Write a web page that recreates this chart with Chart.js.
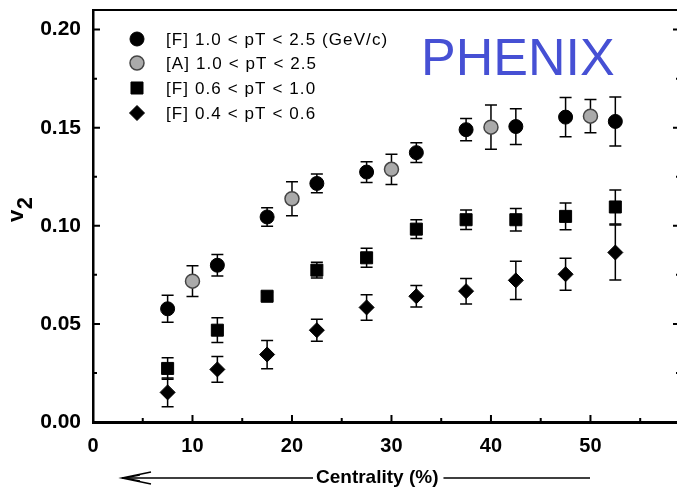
<!DOCTYPE html>
<html><head><meta charset="utf-8">
<script src="https://cdn.jsdelivr.net/npm/chart.js@4.4.1/dist/chart.umd.min.js"></script>
<style>
html,body{margin:0;padding:0;overflow:hidden;background:#fff;width:677px;height:491px}
#wrap{width:690px;height:491px;position:relative}
</style>
</head><body><div id="wrap"><canvas id="c" width="690" height="491"></canvas></div>
<script>
// ---- data ----
const seriesLabels = ['[F] 1.0 < pT < 2.5 (GeV/c)', '[A] 1.0 < pT < 2.5', '[F] 0.6 < pT < 1.0', '[F] 0.4 < pT < 0.6'];
const centralityF = [7.5, 12.5, 17.5, 22.5, 27.5, 32.5, 37.5, 42.5, 47.5, 52.5];
const centralityA = [10, 20, 30, 40, 50];
const v2HighF = [0.0577, 0.0799, 0.1045, 0.1216, 0.1274, 0.1373, 0.1490, 0.1506, 0.1554, 0.1532];
const errHighF = [0.0069, 0.0055, 0.0047, 0.0048, 0.0053, 0.0050, 0.0057, 0.0091, 0.0100, 0.0125];
const v2HighA = [0.0718, 0.1138, 0.1288, 0.1503, 0.1559];
const errHighA = [0.0078, 0.0087, 0.0077, 0.0113, 0.0085];
const v2MidF = [0.0273, 0.0468, 0.0641, 0.0774, 0.0837, 0.0983, 0.1031, 0.1031, 0.1048, 0.1096];
const errMidF = [0.0055, 0.0063, 0.0020, 0.0040, 0.0048, 0.0048, 0.0050, 0.0057, 0.0068, 0.0087];
const v2LowF = [0.0151, 0.0268, 0.0344, 0.0468, 0.0584, 0.0641, 0.0667, 0.0722, 0.0753, 0.0864];
const errLowF = [0.0073, 0.0066, 0.0072, 0.0056, 0.0065, 0.0055, 0.0065, 0.0097, 0.0082, 0.0140];
const xTickValues = [0, 10, 20, 30, 40, 50];
const xMinorValues = [5, 15, 25, 35, 45, 55];
const yTickValues = [0, 0.05, 0.10, 0.15, 0.20];
const yMinorValues = [0.025, 0.075, 0.125, 0.175];
const xTitle = 'Centrality (%)';
const experimentLabel = 'PHENIX';

const FONT = '"Liberation Sans", Arial, sans-serif';
const pts = (xs, ys) => xs.map((x, i) => ({x: x, y: ys[i]}));

const datasets = [
  {label: seriesLabels[0], data: pts(centralityF, v2HighF), errors: errHighF, pointStyle: 'circle', pointRadius: 7,
   backgroundColor: '#000', borderColor: '#000', borderWidth: 1},
  {label: seriesLabels[1], data: pts(centralityA, v2HighA), errors: errHighA, pointStyle: 'circle', pointRadius: 7,
   backgroundColor: '#aaaaaa', borderColor: '#444', borderWidth: 1.5},
  {label: seriesLabels[2], data: pts(centralityF, v2MidF), errors: errMidF, pointStyle: 'rect', pointRadius: 8.5,
   backgroundColor: '#000', borderColor: '#000', borderWidth: 1},
  {label: seriesLabels[3], data: pts(centralityF, v2LowF), errors: errLowF, pointStyle: 'rectRot', pointRadius: 7.5,
   backgroundColor: '#000', borderColor: '#000', borderWidth: 1}
];

function marker(ctx, style, x, y, r, fill, stroke, bw) {
  ctx.save();
  ctx.beginPath();
  if (style === 'circle') ctx.arc(x, y, r, 0, Math.PI * 2);
  else if (style === 'rect') { const s = r * Math.SQRT1_2; ctx.rect(x - s, y - s, 2 * s, 2 * s); }
  else { ctx.moveTo(x, y - r); ctx.lineTo(x + r, y); ctx.lineTo(x, y + r); ctx.lineTo(x - r, y); ctx.closePath(); }
  ctx.fillStyle = fill; ctx.fill();
  ctx.lineWidth = bw; ctx.strokeStyle = stroke; ctx.stroke();
  ctx.restore();
}

const deco = {
  id: 'deco',
  beforeDatasetsDraw(chart) {
    const ctx = chart.ctx, xs = chart.scales.x, ys = chart.scales.y;
    ctx.save();
    ctx.strokeStyle = '#000'; ctx.lineWidth = 1.5;
    chart.data.datasets.forEach(ds => {
      ds.data.forEach((p, i) => {
        const e = ds.errors[i];
        const px = xs.getPixelForValue(p.x);
        const t = ys.getPixelForValue(p.y + e), b = ys.getPixelForValue(p.y - e);
        ctx.beginPath();
        ctx.moveTo(px, t); ctx.lineTo(px, b);
        ctx.moveTo(px - 6, t); ctx.lineTo(px + 6, t);
        ctx.moveTo(px - 6, b); ctx.lineTo(px + 6, b);
        ctx.stroke();
      });
    });
    ctx.restore();
  },
  afterDraw(chart) {
    const ctx = chart.ctx, xs = chart.scales.x, ys = chart.scales.y, a = chart.chartArea;
    ctx.save();
    ctx.strokeStyle = '#000';
    // top and right frame
    ctx.lineWidth = 2;
    ctx.beginPath(); ctx.moveTo(a.left, a.top); ctx.lineTo(a.right, a.top); ctx.lineTo(a.right, a.bottom); ctx.stroke();
    // inward ticks
    ctx.lineWidth = 2;
    ctx.beginPath();
    yTickValues.forEach(v => { const py = ys.getPixelForValue(v);
      ctx.moveTo(a.left, py); ctx.lineTo(a.left + 7, py); ctx.moveTo(a.right, py); ctx.lineTo(a.right - 7, py); });
    yMinorValues.forEach(v => { const py = ys.getPixelForValue(v);
      ctx.moveTo(a.left, py); ctx.lineTo(a.left + 4, py); ctx.moveTo(a.right, py); ctx.lineTo(a.right - 4, py); });
    xTickValues.forEach(v => { const px = xs.getPixelForValue(v);
      ctx.moveTo(px, a.bottom); ctx.lineTo(px, a.bottom - 7); });
    xMinorValues.forEach(v => { const px = xs.getPixelForValue(v);
      ctx.moveTo(px, a.bottom); ctx.lineTo(px, a.bottom - 4); });
    ctx.stroke();

    // legend
    ctx.font = '17px ' + FONT;
    ctx.letterSpacing = '1.1px';
    ctx.fillStyle = '#000';
    ctx.textBaseline = 'middle';
    ctx.textAlign = 'left';
    const rowY = [39, 63, 88, 113];
    chart.data.datasets.forEach((ds, i) => {
      marker(ctx, ds.pointStyle, 137, rowY[i], ds.pointRadius, ds.backgroundColor, ds.borderColor, ds.borderWidth);
      ctx.fillStyle = '#000';
      ctx.fillText(ds.label, 166, rowY[i] + 1);
    });
    ctx.letterSpacing = '0px';

    // PHENIX
    ctx.font = '52px ' + FONT;
    ctx.fillStyle = '#4650d4';
    ctx.textBaseline = 'alphabetic';
    ctx.fillText(experimentLabel, 421, 75);

    // y title v2
    ctx.save();
    ctx.fillStyle = '#000';
    ctx.font = 'bold 22px ' + FONT;
    ctx.translate(23, 222);
    ctx.rotate(-Math.PI / 2);
    ctx.textBaseline = 'alphabetic';
    ctx.fillText('v', 0, 0);
    const wv = ctx.measureText('v').width;
    ctx.fillText('2', wv + 0.5, 8.5);
    ctx.restore();

    // x title with arrow
    ctx.fillStyle = '#000';
    ctx.font = 'bold 19px ' + FONT;
    ctx.textBaseline = 'middle';
    ctx.textAlign = 'left';
    const tx = 316, ty = 478;
    ctx.fillText(xTitle, tx, ty);
    const tw = ctx.measureText(xTitle).width;
    ctx.lineWidth = 1.5;
    ctx.beginPath();
    ctx.moveTo(122, ty); ctx.lineTo(tx - 3, ty);
    ctx.moveTo(tx + tw + 5, ty); ctx.lineTo(590, ty);
    ctx.stroke();
    ctx.beginPath();
    ctx.moveTo(151, ty - 6); ctx.lineTo(122, ty); ctx.lineTo(151, ty + 6);
    ctx.moveTo(140, ty - 3); ctx.lineTo(124, ty);
    ctx.moveTo(140, ty + 3); ctx.lineTo(124, ty);
    ctx.stroke();
    ctx.restore();
  }
};

new Chart(document.getElementById('c'), {
  type: 'scatter',
  data: {datasets: datasets},
  options: {
    responsive: false,
    animation: false,
    devicePixelRatio: 1,
    layout: {padding: {left: 0, top: 10, right: 10, bottom: 0}},
    plugins: {legend: {display: false}, tooltip: {enabled: false}},
    scales: {
      x: {
        type: 'linear', min: 0, max: 59,
        afterFit: s => { s.height = 69; s.paddingLeft = 0; s.paddingRight = 0; },
        afterBuildTicks: s => { s.ticks = xTickValues.map(v => ({value: v})); },
        grid: {display: false, drawTicks: false},
        border: {display: true, color: '#000', width: 3},
        ticks: {padding: 12, color: '#000', font: {family: FONT, size: 20, weight: 'bold'},
                maxRotation: 0, callback: v => String(v)}
      },
      y: {
        type: 'linear', min: 0, max: 0.21,
        afterFit: s => { s.width = 93; s.paddingTop = 0; s.paddingBottom = 0; },
        afterBuildTicks: s => { s.ticks = yTickValues.map(v => ({value: v})); },
        grid: {display: false, drawTicks: false},
        border: {display: true, color: '#000', width: 2.5},
        ticks: {padding: 12, color: '#000', font: {family: FONT, size: 21, weight: 'bold'},
                callback: v => Number(v).toFixed(2)}
      }
    }
  },
  plugins: [deco]
});
</script>
</body></html>
